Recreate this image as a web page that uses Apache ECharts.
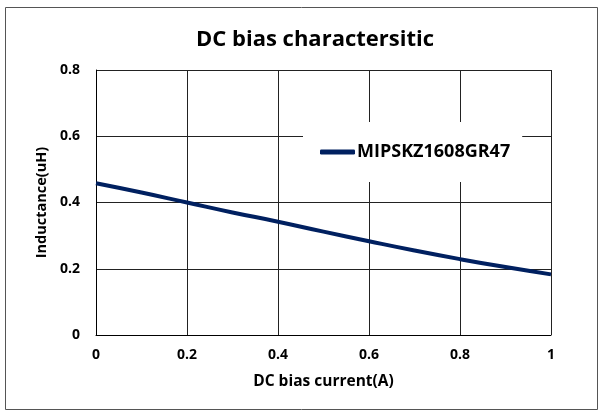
<!DOCTYPE html>
<html>
<head>
<meta charset="utf-8">
<script src="https://cdn.jsdelivr.net/npm/echarts@6/dist/echarts.min.js"></script>
<style>
  html, body { margin: 0; padding: 0; background: #fff; }
  #chart { width: 603px; height: 414px; }
</style>
</head>
<body>
<div id="chart"></div>
<script>
/* ----------  data  ---------- */
const seriesName = 'MIPSKZ1608GR47';
const currentA = [0, 0.1, 0.2, 0.3, 0.4, 0.5, 0.6, 0.7, 0.8, 0.9, 1.0];
const inductanceUH = [0.458, 0.43, 0.40, 0.37, 0.342, 0.312, 0.283, 0.255, 0.229, 0.205, 0.183];

const FONT = '"Open Sans", "DejaVu Sans", sans-serif';

/* ----------  chart  ---------- */
const chart = echarts.init(document.getElementById('chart'));

chart.setOption({
  animation: false,
  title: {
    text: 'DC bias charactersitic',
    left: 191,
    top: 24,
    textStyle: { fontFamily: FONT, fontSize: 22, fontWeight: 'bold', color: '#000' }
  },
  graphic: [{
    type: 'rect',
    shape: { x: 5.5, y: 7.5, width: 592, height: 402 },
    style: { fill: 'none', stroke: '#555', lineWidth: 1 },
    silent: true
  }],
  legend: {
    left: 303,
    top: 122,
    backgroundColor: '#fff',
    padding: [21, 12, 21, 17],
    itemWidth: 35,
    itemHeight: 5,
    itemGap: 2,
    icon: 'roundRect',
    textStyle: { fontFamily: FONT, fontSize: 18, fontWeight: 'bold', color: '#000', padding: [0, 0, 0, -3] },
    data: [seriesName],
    z: 10
  },
  grid: { left: 96, right: 52, top: 70, bottom: 79 },
  xAxis: {
    type: 'value',
    min: 0, max: 1, interval: 0.2,
    name: 'DC bias current(A)',
    nameLocation: 'middle',
    nameGap: 39,
    nameTextStyle: { fontFamily: FONT, fontSize: 15.5, fontWeight: 'bold', color: '#000' },
    axisLine: { show: true, lineStyle: { color: '#000', width: 1 } },
    axisTick: { show: false },
    axisLabel: { fontFamily: FONT, fontSize: 14, fontWeight: 'bold', color: '#000', margin: 13 },
    splitLine: { show: true, lineStyle: { color: '#222', width: 1 } }
  },
  yAxis: {
    type: 'value',
    min: 0, max: 0.8, interval: 0.2,
    name: 'Inductance(uH)',
    nameLocation: 'middle',
    nameGap: 46,
    nameTextStyle: { fontFamily: FONT, fontSize: 14.5, fontWeight: 'bold', color: '#000' },
    axisLine: { show: true, lineStyle: { color: '#000', width: 1 } },
    axisTick: { show: false },
    axisLabel: { fontFamily: FONT, fontSize: 14, fontWeight: 'bold', color: '#000', margin: 16 },
    splitLine: { show: true, lineStyle: { color: '#222', width: 1 } }
  },
  series: [{
    name: seriesName,
    type: 'line',
    smooth: true,
    showSymbol: false,
    color: '#002060',
    lineStyle: { width: 4, color: '#002060' },
    data: currentA.map((x, i) => [x, inductanceUH[i]])
  }]
});
</script>
</body>
</html>
